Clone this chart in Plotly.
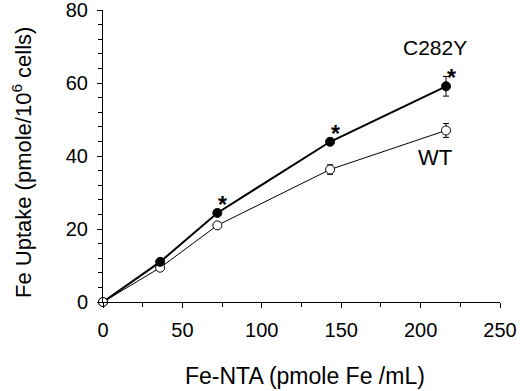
import plotly.graph_objects as go

fe_nta = [0, 36, 72, 143, 216]
c282y = [0, 11.0, 24.4, 43.9, 59.1]
c282y_err = [0, 0.6, 0.6, 0.9, 2.7]
wt = [0, 9.4, 21.0, 36.3, 47.0]
wt_err = [0, 0.6, 0.6, 1.3, 1.9]
star_idx = [2, 3, 4]

x_ticks = [0, 50, 100, 150, 200, 250]
y_ticks = [0, 20, 40, 60, 80]
x_title = "Fe-NTA (pmole Fe /mL)"
y_title = "Fe Uptake (pmole/10<sup>6</sup> cells)"

FONT = "Liberation Sans, Arial, Helvetica, sans-serif"

fig = go.Figure()
fig.add_trace(go.Scatter(
    x=fe_nta, y=wt, mode="lines+markers", name="WT",
    line=dict(color="black", width=1),
    marker=dict(symbol="circle", size=9, color="white", line=dict(color="black", width=1)),
    error_y=dict(type="data", array=wt_err, visible=True, color="black", thickness=1, width=3),
    cliponaxis=False,
))
fig.add_trace(go.Scatter(
    x=fe_nta, y=c282y, mode="lines", name="C282Y line",
    line=dict(color="black", width=2), cliponaxis=False,
))
fig.add_trace(go.Scatter(
    x=fe_nta[1:], y=c282y[1:], mode="markers", name="C282Y",
    marker=dict(symbol="circle", size=9, color="black", line=dict(color="black", width=1)),
    error_y=dict(type="data", array=c282y_err[1:], visible=True, color="black", thickness=1, width=3),
    cliponaxis=False,
))
fig.add_trace(go.Scatter(
    x=fe_nta[:1], y=wt[:1], mode="markers",
    marker=dict(symbol="circle", size=9, color="white", line=dict(color="black", width=1)),
    cliponaxis=False,
))

annotations = []
for i in star_idx:
    annotations.append(dict(
        x=fe_nta[i], y=c282y[i], xref="x", yref="y", text="<b>*</b>", showarrow=False,
        xshift=5, yshift=8, font=dict(family=FONT, size=23, color="black"),
    ))
annotations.append(dict(x=209, y=69.6, xref="x", yref="y", text="C282Y", showarrow=False,
                        xanchor="center", yanchor="middle",
                        font=dict(family=FONT, size=21, color="black")))
annotations.append(dict(x=209, y=39.6, xref="x", yref="y", text="WT", showarrow=False,
                        xanchor="center", yanchor="middle",
                        font=dict(family=FONT, size=22, color="black")))
annotations.append(dict(x=0.509, y=-0.253, xref="paper", yref="paper", text=x_title,
                        xanchor="center", yanchor="middle",
                        showarrow=False, font=dict(family=FONT, size=23, color="black")))
annotations.append(dict(x=-0.204, y=0.476, xref="paper", yref="paper", text=y_title,
                        xanchor="center", yanchor="middle",
                        textangle=-90, showarrow=False,
                        font=dict(family=FONT, size=22, color="black")))

fig.update_layout(
    width=520, height=391,
    margin=dict(l=103, r=20, t=10, b=89),
    paper_bgcolor="white", plot_bgcolor="white",
    showlegend=False,
    font=dict(family=FONT, size=20, color="black"),
    annotations=annotations,
    xaxis=dict(
        range=[0, 250], tickvals=x_ticks, automargin=False,
        showgrid=False, zeroline=False, showline=True, linecolor="black", linewidth=1,
        ticks="outside", ticklen=5, tickwidth=1, tickcolor="black",
        minor=dict(dtick=25, ticks="outside", ticklen=4, tickcolor="black", showgrid=False),
        ticklabelstandoff=5, ticklabeloverflow="allow",
    ),
    yaxis=dict(
        range=[0, 80], tickvals=y_ticks, automargin=False,
        showgrid=False, zeroline=False, showline=True, linecolor="black", linewidth=1,
        ticks="outside", ticklen=5, tickwidth=1, tickcolor="black",
        minor=dict(dtick=4, ticks="outside", ticklen=4, tickcolor="black", showgrid=False),
        ticklabelstandoff=5, ticklabeloverflow="allow",
    ),
)

fig.write_html("out.html", config={"displayModeBar": False, "staticPlot": True},
               post_script="document.body.style.margin='0px';document.body.style.overflow='hidden';")
